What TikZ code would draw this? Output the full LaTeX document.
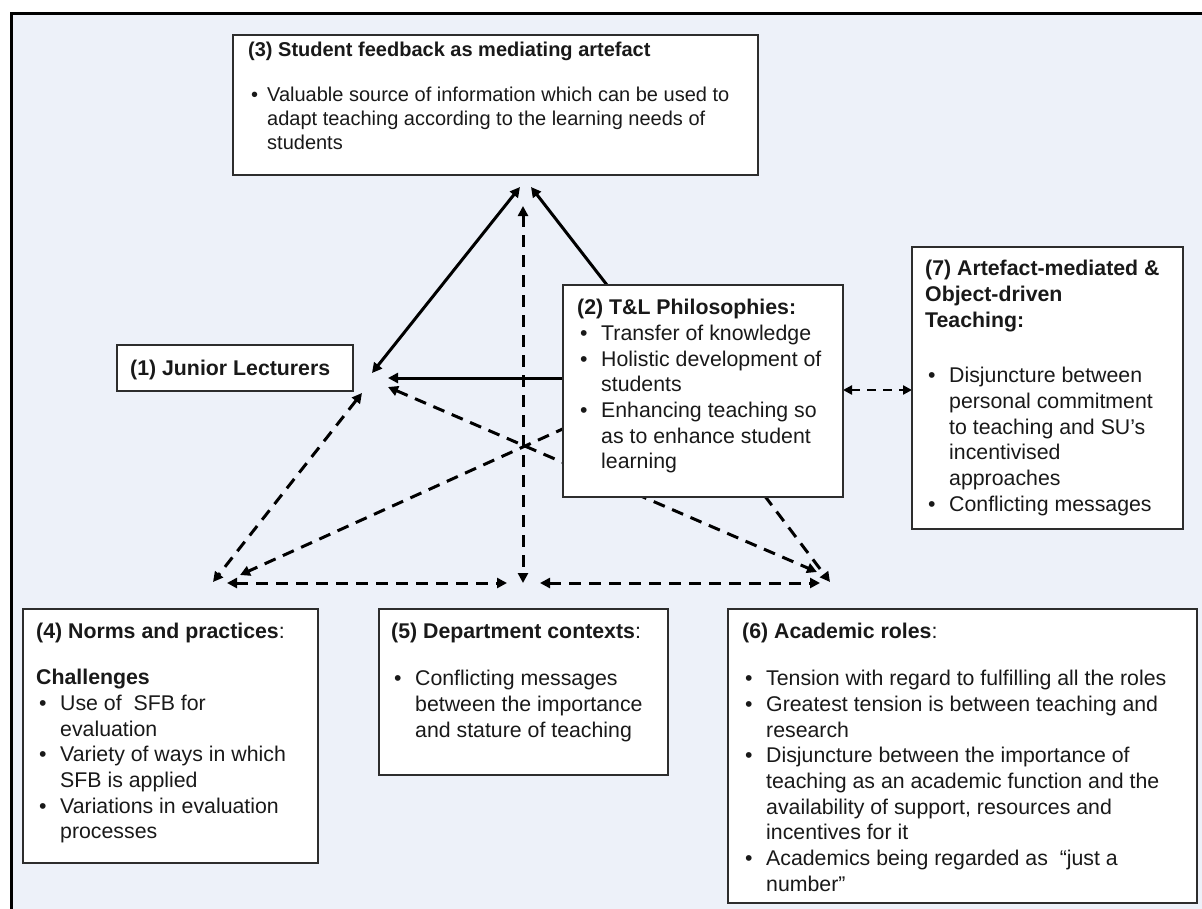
\documentclass[tikz,border=0pt]{standalone}
\usepackage{fontspec}
\setmainfont{Liberation Sans}
\usetikzlibrary{arrows.meta,calc}

\definecolor{panel}{RGB}{237,241,249}
\definecolor{ink}{RGB}{25,25,25}
\definecolor{edge}{RGB}{45,45,45}

\pgfdeclarelayer{back}
\pgfdeclarelayer{links}
\pgfsetlayers{back,links,main}

% bullet lists with a hanging indent of \bind
\newlength\bind
\setlength\bind{24pt}
\newcommand\bl[1]{\makebox[\bind][l]{\hspace{3pt}\textbullet}#1}
\newcommand\ct[1]{\hspace*{\bind}#1}
\newcommand\bodyfont{\fontsize{21.3pt}{25.7pt}\selectfont}
\newcommand\topfont{\fontsize{20pt}{24pt}\selectfont}

\tikzset{
  box/.style={draw=edge, line width=2pt, fill=white, anchor=north west,
              inner sep=0pt, outer sep=0pt},
  txt/.style={anchor=base west, inner sep=0pt, text=ink, font=\bodyfont},
  link/.style={line width=3pt, draw=black},
  dashlink/.style={link, dash pattern=on 12pt off 8pt},
  >={Triangle[length=10pt,width=10pt]}
}

\begin{document}
\begin{tikzpicture}[x=1pt,y=-1pt]
\useasboundingbox (0,0) rectangle (1202,908);

% page and framed panel
\begin{pgfonlayer}{back}
  \fill[white] (0,0) rectangle (1202,908);
  \draw[line width=3pt, fill=panel] (11.5,13.5) rectangle (1240,940);
\end{pgfonlayer}

% ---------- boxes ----------
\node[box, minimum width=525pt, minimum height=140pt] (b3) at (233,35) {};
\node[txt, font=\topfont] (t3) at (248,56.7) {\parbox[t]{510pt}{\raggedright\setlength\bind{19pt}%
  \textbf{(3) Student feedback as mediating artefact}\\[21pt]
  \bl{Valuable source of information which can be used to}\\
  \ct{adapt teaching according to the learning needs of}\\
  \ct{students}}};

\node[box, minimum width=236pt, minimum height=46pt] (b1) at (117,345) {};
\node[txt] (t1) at (130,375) {\textbf{(1) Junior Lecturers}};

\node[box, minimum width=280pt, minimum height=212pt] (b2) at (563,285) {};
\node[txt] (t2) at (577,314.6) {\parbox[t]{265pt}{\raggedright
  \textbf{(2) T\&L Philosophies:}\\
  \bl{Transfer of knowledge}\\
  \bl{Holistic development of}\\
  \ct{students}\\
  \bl{Enhancing teaching so}\\
  \ct{as to enhance student}\\
  \ct{learning}}};

\node[box, minimum width=271pt, minimum height=282pt] (b7) at (912,247) {};
\node[txt] (t7) at (925,275.6) {\parbox[t]{255pt}{\raggedright
  \textbf{(7) Artefact-mediated \&}\\
  \textbf{Object-driven}\\
  \textbf{Teaching:}\\[29.9pt]
  \bl{Disjuncture between}\\
  \ct{personal commitment}\\
  \ct{to teaching and SU’s}\\
  \ct{incentivised}\\
  \ct{approaches}\\
  \bl{Conflicting messages}}};

\node[box, minimum width=295pt, minimum height=254pt] (b4) at (23,609) {};
\node[txt] (t4) at (36,638.6) {\parbox[t]{280pt}{\raggedright
  \textbf{(4) Norms and practices}:\\[20.3pt]
  \textbf{Challenges}\\
  \bl{Use of\ \ SFB for}\\
  \ct{evaluation}\\
  \bl{Variety of ways in which}\\
  \ct{SFB is applied}\\
  \bl{Variations in evaluation}\\
  \ct{processes}}};

\node[box, minimum width=289pt, minimum height=166pt] (b5) at (379,609) {};
\node[txt] (t5) at (391,638.6) {\parbox[t]{275pt}{\raggedright
  \textbf{(5) Department contexts}:\\[21.3pt]
  \bl{Conflicting messages}\\
  \ct{between the importance}\\
  \ct{and stature of teaching}}};

\node[box, minimum width=469pt, minimum height=294pt] (b6) at (728,609) {};
\node[txt] (t6) at (742,638.6) {\parbox[t]{455pt}{\raggedright
  \textbf{(6) Academic roles}:\\[21.3pt]
  \bl{Tension with regard to fulfilling all the roles}\\
  \bl{Greatest tension is between teaching and}\\
  \ct{research}\\
  \bl{Disjuncture between the importance of}\\
  \ct{teaching as an academic function and the}\\
  \ct{availability of support, resources and}\\
  \ct{incentives for it}\\
  \bl{Academics being regarded as\ \ “just a}\\
  \ct{number”}}};

% ---------- free ends of the connectors ----------
\coordinate (apA) at (520,187);   % apex, end of line from (1)
\coordinate (apB) at (531,187);   % apex, end of line from (2)
\coordinate (apV) at (523,206);   % apex, top of the vertical
\coordinate (cJL) at (372,373);   % corner beside (1)
\coordinate (jlH) at (388,378);
\coordinate (jlD) at (388,387);
\coordinate (jlL) at (362,393);
\coordinate (bl1) at (213,582);   % bottom-left corner
\coordinate (bl2) at (240,575);
\coordinate (blH) at (227,583);
\coordinate (bmL) at (507,583);   % bottom middle
\coordinate (bmV) at (523,583);
\coordinate (bmR) at (540,583);
\coordinate (brH) at (820,583);   % bottom-right corner
\coordinate (br1) at (817,572);
\coordinate (br2) at (830,582);
\coordinate (hid1) at (640,394);  % ends hidden behind (2)
\coordinate (hid2) at (692,400);
\coordinate (b2t) at ($(b2.north west)+(44,0)$);
\coordinate (m27) at (877,390);

% ---------- connectors ----------
\begin{pgfonlayer}{links}
  \draw[link,<->] (cJL) -- (apA);
  \draw[link,->] (b2t) -- (apB);
  \draw[link,->] (b2.west |- jlH) -- (jlH);
  \draw[dashlink,<->] (jlL) -- (bl1);
  \draw[dashlink,<->] (jlD) -- (br1);
  \draw[dashlink,->] (hid1) -- (bl2);
  \draw[dashlink,<->] (apV) -- (bmV);
  \draw[dashlink,<->] (blH) -- (bmL);
  \draw[dashlink,<->] (bmR) -- (brH);
  \draw[dashlink,->] (hid2) -- (br2);
  \draw[link,<->,line width=2.5pt,dash pattern=on 9pt off 7pt,
        >={Triangle[length=9pt,width=9pt]}] (b2.east |- m27) -- (b7.west |- m27);
\end{pgfonlayer}
\end{tikzpicture}
\end{document}
